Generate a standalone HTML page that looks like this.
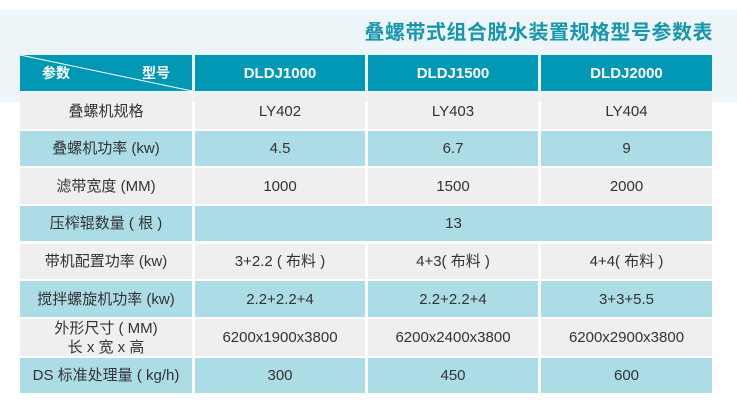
<!DOCTYPE html>
<html><head><meta charset="utf-8"><style>
body{margin:0;width:737px;height:419px;background:#fff;position:relative;overflow:hidden;font-family:"Liberation Sans","Noto Sans CJK SC",sans-serif}
.band{position:absolute;left:0;top:10px;width:737px;height:92px;background:#edf5f8}
.title{position:absolute;right:24px;top:16px;font-size:20px;font-weight:bold;color:#1797ad;letter-spacing:0.5px}
.c{position:absolute;display:flex;align-items:center;justify-content:center;text-align:center;font-size:15px;color:#333;line-height:19px}
.h{background:#0198b5;color:#fff;font-weight:bold;font-size:15px}
.g{background:#efefef}.b{background:#acdde7}
</style></head><body>
<div class="band"></div>
<div class="title">叠螺带式组合脱水装置规格型号参数表</div>
<div id="t"></div>
<script>
var xs=[[20,172],[195,170],[368,170],[541,171]];
var ys=[[55,36],[93,36],[131,35],[168,36],[206,35],[244,35],[281,36],[319,37],[358,35]];
var rows=[
["","DLDJ1000","DLDJ1500","DLDJ2000"],
["叠螺机规格","LY402","LY403","LY404"],
["叠螺机功率 (kw)","4.5","6.7","9"],
["滤带宽度 (MM)","1000","1500","2000"],
["压榨辊数量 ( 根 )","13"],
["带机配置功率 (kw)","3+2.2 ( 布料 )","4+3( 布料 )","4+4( 布料 )"],
["搅拌螺旋机功率 (kw)","2.2+2.2+4","2.2+2.2+4","3+3+5.5"],
["外形尺寸 ( MM)<br>长 x 宽 x 高","6200x1900x3800","6200x2400x3800","6200x2900x3800"],
["DS 标准处理量 ( kg/h)","300","450","600"]];
var h="";
rows.forEach(function(r,i){
 var cls=i==0?"h":(i%2?"g":"b");
 r.forEach(function(t,j){
  var x=xs[j][0],w=xs[j][1];
  if(r.length==2&&j==1){w=712-195;}
  h+='<div class="c '+cls+'" style="left:'+x+'px;top:'+ys[i][0]+'px;width:'+w+'px;height:'+ys[i][1]+'px">'+t+'</div>';
 });
});
h+='<div class="c h" style="left:20px;top:55px;width:172px;height:36px;justify-content:space-between;padding:0 22px;box-sizing:border-box;font-size:14px"><span>参数</span><span>型号</span></div>';
h+='<svg style="position:absolute;left:20px;top:55px" width="172" height="36"><line x1="0" y1="0" x2="172" y2="36" stroke="#fff" stroke-width="1"/></svg>';
document.getElementById("t").innerHTML=h;
</script>
</body></html>
